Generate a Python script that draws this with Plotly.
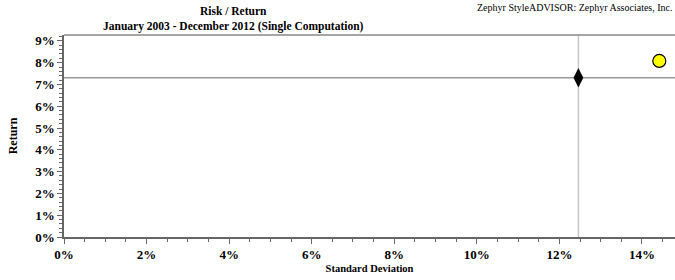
import plotly.graph_objects as go

# Data (percent)
names = ["Manager", "Market Benchmark"]
std_dev = [14.42, 12.46]
returns = [8.08, 7.31]
x_ticks = [0, 2, 4, 6, 8, 10, 12, 14]
y_ticks = [0, 1, 2, 3, 4, 5, 6, 7, 8, 9]

FONT = "Liberation Serif"

fig = go.Figure()

# crosshair through the benchmark point
bx, by = std_dev[1], returns[1]
fig.add_shape(type="line", xref="x", yref="paper", x0=bx, x1=bx, y0=0, y1=1,
              line=dict(color="#c8c8c8", width=1.5), layer="below")
fig.add_shape(type="line", xref="paper", yref="y", x0=0, x1=1, y0=by, y1=by,
              line=dict(color="#999999", width=1.5), layer="below")

fig.add_trace(go.Scatter(
    x=[std_dev[0]], y=[returns[0]], mode="markers", name=names[0],
    marker=dict(symbol="circle", size=13, color="#ffff00",
                line=dict(color="#000000", width=1.2)),
    cliponaxis=False))
fig.add_trace(go.Scatter(
    x=[std_dev[1]], y=[returns[1]], mode="markers", name=names[1],
    marker=dict(symbol="diamond-tall", size=14, color="#000000",
                line=dict(color="#000000", width=0)),
    cliponaxis=False))

fig.update_layout(
    width=675, height=280,
    margin=dict(l=64, r=0, t=35, b=43, autoexpand=False),
    paper_bgcolor="white", plot_bgcolor="white",
    showlegend=False,
    font=dict(family=FONT, color="#000000"),
    xaxis=dict(
        range=[0, 14.8], tickvals=x_ticks,
        ticktext=[f"{v}%" for v in x_ticks],
        tickfont=dict(family=FONT, size=13, color="#000", weight="bold"),
        showgrid=False, zeroline=False, automargin=False,
        showline=True, linecolor="#666666", linewidth=1.5, mirror=False,
        ticks="outside", ticklen=5, tickcolor="#666666", tickwidth=1,
        minor=dict(dtick=0.5, tick0=0, ticks="outside", ticklen=3,
                   tickcolor="#666666", showgrid=False),
        title=dict(text="Standard Deviation", standoff=3,
                   font=dict(family=FONT, size=10.5, color="#000", weight="bold")),
        fixedrange=True,
    ),
    yaxis=dict(
        range=[0, 9.27], tickvals=y_ticks,
        ticktext=[f"{v}%" for v in y_ticks],
        tickfont=dict(family=FONT, size=13, color="#000", weight="bold"),
        showgrid=False, zeroline=False, automargin=False,
        showline=True, linecolor="#666666", linewidth=1.5,
        ticks="outside", ticklen=5, tickcolor="#666666", tickwidth=1,
        minor=dict(dtick=0.2, tick0=0, ticks="outside", ticklen=3,
                   tickcolor="#666666", showgrid=False),
        title=dict(text="Return", standoff=15,
                   font=dict(family=FONT, size=12, color="#000", weight="bold")),
        fixedrange=True,
    ),
)

# top border line of the plot frame
fig.add_shape(type="line", xref="paper", yref="paper", x0=0, x1=1, y0=1, y1=1,
              line=dict(color="#888888", width=1.5))

fig.add_annotation(xref="paper", yref="paper", x=0.277, y=1.0, yanchor="bottom",
                   xanchor="center", showarrow=False, align="center",
                   text="Risk / Return<br>January 2003 - December 2012 (Single Computation)",
                   font=dict(family=FONT, size=11.5, color="#000", weight="bold"))
fig.add_annotation(xref="paper", yref="paper", x=1.0, y=1.173, yanchor="top",
                   xanchor="right", showarrow=False,
                   text="Zephyr StyleADVISOR: Zephyr Associates, Inc.",
                   font=dict(family=FONT, size=10, color="#000"))

fig.write_html("out.html", config={"displayModeBar": False},
               post_script="document.body.style.margin='0';document.body.style.overflow='hidden';")
